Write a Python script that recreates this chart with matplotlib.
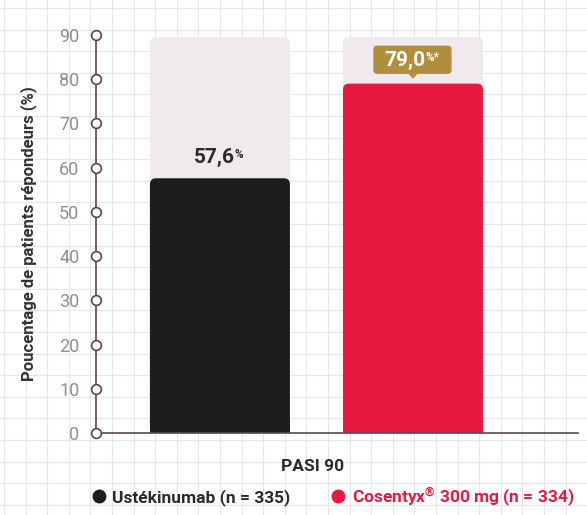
import matplotlib
matplotlib.use("Agg")
import matplotlib.pyplot as plt
from matplotlib.patches import FancyBboxPatch, Polygon
from matplotlib.lines import Line2D
import numpy as np

# data
groups = ["Ustékinumab (n = 335)", "Cosentyx$^{®}$ 300 mg (n = 334)"]
values = [57.6, 79.0]
value_labels = ["57,6", "79,0"]
bar_colors = ["#1d1d1b", "#e8193f"]
yticks = [0, 10, 20, 30, 40, 50, 60, 70, 80, 90]
category = "PASI 90"

plt.rcParams['font.family'] = ['Roboto', 'DejaVu Sans']
plt.rcParams['mathtext.default'] = 'regular'

W, H = 587, 515
fig = plt.figure(figsize=(W / 100, H / 100), dpi=100)

# squared paper background
bg = fig.add_axes([0, 0, 1, 1])
bg.set_xlim(0, W)
bg.set_ylim(H, 0)
bg.axis('off')
for gx in np.arange(4, W, 21.6):
    bg.axvline(gx, color='#e6e6ea', lw=0.8, zorder=0)
for gy in np.arange(8, H, 21.6):
    bg.axhline(gy, color='#e6e6ea', lw=0.8, zorder=0)

ax_l, ax_r, ax_b, ax_t = 96, 578, 433, 35
ax = fig.add_axes([ax_l / W, 1 - ax_b / H, (ax_r - ax_l) / W, (ax_b - ax_t) / H])
ax.patch.set_alpha(0)
ax.set_xlim(-0.642, 1.855)
ax.set_ylim(0, 90)
for s in ax.spines.values():
    s.set_visible(False)

px_x = (ax_r - ax_l) / 2.497  # px per x unit
px_y = (ax_b - ax_t) / 90.0   # px per y unit
aspect = px_x / px_y
bw = 140 / px_x
rad = 6 / px_x

for i, v in enumerate(values):
    # light background column up to 90
    back = FancyBboxPatch((i - bw / 2, 0), bw, 89.5,
                          boxstyle=f"round,pad=0,rounding_size={rad}",
                          mutation_aspect=aspect, fc='#f0e9ed', ec='none', zorder=1)
    ax.add_patch(back)
    bar = FancyBboxPatch((i - bw / 2, 0), bw, v,
                         boxstyle=f"round,pad=0,rounding_size={rad}",
                         mutation_aspect=aspect, fc=bar_colors[i], ec='none', zorder=2)
    ax.add_patch(bar)
    ax.bar(i, 3, width=bw, bottom=0, color=bar_colors[i], zorder=2)

# value labels
t0 = ax.text(-0.03, values[0] + 2.6, value_labels[0], ha='center', va='bottom',
             fontsize=15, fontweight='bold', color='#2b2b2b', zorder=4)
ax.annotate("%", xy=(1, 1.0), xycoords=t0, ha='left', va='top', fontsize=8.5,
            fontweight='bold', color='#2b2b2b', zorder=4)

gold = '#b08e3c'
box = FancyBboxPatch((1 - 0.205, values[1] + 2.2), 0.405, 6.4,
                     boxstyle=f"round,pad=0,rounding_size={4 / px_x}",
                     mutation_aspect=aspect, fc=gold, ec='none', zorder=5)
ax.add_patch(box)
ax.add_patch(Polygon([[1 - 0.025, values[1] + 2.3], [1 + 0.025, values[1] + 2.3],
                      [1, values[1] + 1.1]], closed=True, fc=gold, ec='none', zorder=5))
t1 = ax.text(1 - 0.04, values[1] + 5.3, value_labels[1], ha='center', va='center',
             fontsize=15, fontweight='bold', color='white', zorder=6)
ax.annotate("%*", xy=(1, 1.0), xycoords=t1, ha='left', va='top', fontsize=8.5,
            fontweight='bold', color='white', zorder=6)

# axes lines with circle ticks
axis_col = '#5b4459'
ax.plot([-0.642, -0.642], [0, 90], color=axis_col, lw=1.2, clip_on=False, zorder=3)
ax.plot([-0.642, 1.855], [0, 0], color=axis_col, lw=1.2, clip_on=False, zorder=3)
ax.plot([-0.642] * len(yticks), yticks, 'o', ms=7, mfc='white', mec=axis_col, mew=1.2,
        clip_on=False, zorder=6)
ax.set_xticks([])
ax.set_yticks(yticks)
ax.tick_params(axis='y', length=0, pad=12, labelsize=13, labelcolor='#8f8f8f')
ax.set_ylabel("Poucentage de patients répondeurs (%)", fontsize=12, fontweight='bold',
              color='#333333', labelpad=16)

# category label
ax.text(0.48, -7.6, category, ha='center', va='center', fontsize=12.5, fontweight='bold',
        color='#2b2b2b')

# legend
handles = [Line2D([], [], marker='o', ls='none', ms=9, color=c) for c in bar_colors]
leg = fig.legend(handles, groups, loc='center', bbox_to_anchor=(331 / W, 1 - 497 / H),
                 ncol=2, frameon=False, handletextpad=0.15, columnspacing=2.2,
                 handlelength=1.2, prop={'weight': 'bold', 'size': 12.5})
leg.get_texts()[0].set_color('#2b2b2b')
leg.get_texts()[1].set_color(bar_colors[1])

fig.savefig("out.png", dpi=100)
